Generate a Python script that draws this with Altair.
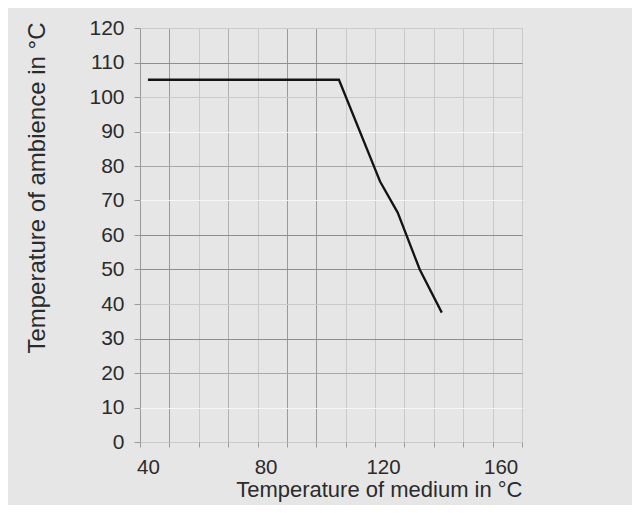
import altair as alt
import pandas as pd

# Curve (temperature of medium vs. ambience, °C)
medium = [40, 105, 119, 125, 132.5, 140]
ambience = [105, 105, 75.5, 66.5, 50, 37.5]

# Vertical grid lines as they sit in the picture, and the labelled ones
x_grid = [37.3, 47.3, 57.3, 67.3, 77.3, 87.3, 97.3, 107.3, 117.3, 127.3,
          137.3, 147.3, 157.3, 167.3]
x_labelled = [37.3, 77.3, 117.3, 157.3]
y_ticks = [0, 10, 20, 30, 40, 50, 60, 70, 80, 90, 100, 110, 120]

df = pd.DataFrame({"medium": medium, "ambience": ambience})

FONT = "Liberation Sans"
TEXT = "#2b2b2b"

x_grid_color = {
    "condition": [
        {"test": "indexof([37.3, 47.3, 87.3, 97.3], datum.value) >= 0", "value": "#9a9a9a"},
        {"test": "indexof([67.3], datum.value) >= 0", "value": "#b0b0b0"},
    ],
    "value": "#c9c9c9",
}
y_grid_color = {
    "condition": [
        {"test": "indexof([30, 50, 60, 110], datum.value) >= 0", "value": "#8e8e8e"},
        {"test": "indexof([10, 70, 90], datum.value) >= 0", "value": "#f6f6f6"},
        {"test": "indexof([20, 80], datum.value) >= 0", "value": "#a8a8a8"},
    ],
    "value": "#cbcbcb",
}

labelled_js = "[" + ", ".join(str(v) for v in x_labelled) + "]"

chart = (
    alt.Chart(df)
    .mark_line(color="#141414", strokeWidth=2.3)
    .encode(
        x=alt.X(
            "medium:Q",
            scale=alt.Scale(domain=[37.3, 167.3], nice=False, zero=False),
            axis=alt.Axis(
                values=x_grid,
                title="Temperature of medium in °C",
                titleAnchor="end",
                titleFont=FONT,
                titleFontSize=22,
                titleFontWeight="normal",
                titleColor=TEXT,
                titlePadding=2,
                labelFont=FONT,
                labelFontSize=20.5,
                labelColor=TEXT,
                labelExpr="indexof(" + labelled_js + ", datum.value) >= 0 ? format(datum.value + 2.7, '.0f') : ''",
                labelOffset=8,
                labelPadding=10,
                labelOverlap=False,
                labelFlush=False,
                tickSize=5,
                tickColor="#9a9a9a",
                tickWidth=1,
                domain=False,
                grid=True,
                gridColor=x_grid_color,
                gridWidth=1,
            ),
        ),
        y=alt.Y(
            "ambience:Q",
            scale=alt.Scale(domain=[0, 120], nice=False),
            axis=alt.Axis(
                values=y_ticks,
                title="Temperature of ambience in °C",
                titleAnchor="end",
                titleY=-6,
                titleFont=FONT,
                titleFontSize=24,
                titleFontWeight="normal",
                titleColor=TEXT,
                titlePadding=39,
                labelFont=FONT,
                labelFontSize=21,
                labelColor=TEXT,
                labelPadding=10,
                tickSize=6,
                tickColor="#9a9a9a",
                tickWidth=1,
                domain=False,
                grid=True,
                gridColor=y_grid_color,
                gridWidth=1,
            ),
        ),
    )
    .properties(
        width=382,
        height=414,
        background="#e6e6e7",
        padding={"left": 132, "top": 20, "right": 110, "bottom": 63},
        autosize=alt.AutoSizeParams(type="none"),
    )
    .configure_view(stroke=None)
)

chart.save("out.html", embed_options={"renderer": "svg", "actions": False})
